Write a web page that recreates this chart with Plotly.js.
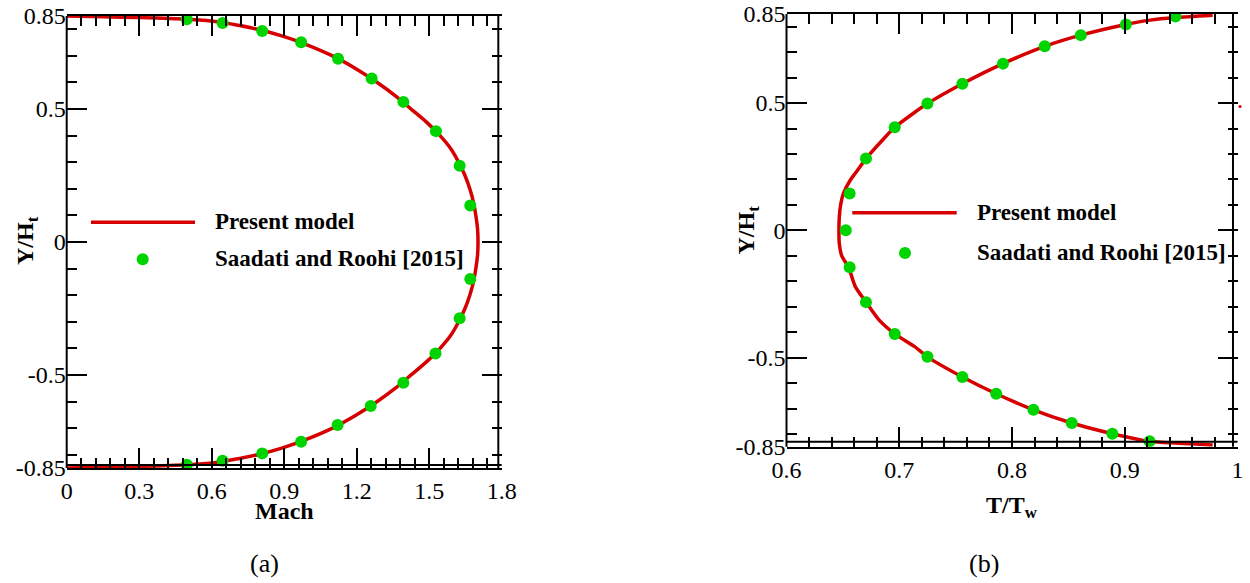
<!DOCTYPE html>
<html>
<head>
<meta charset="utf-8">
<script src="https://cdn.plot.ly/plotly-3.0.1.min.js"></script>
<style>html,body{margin:0;padding:0;background:#fff;}#chart{width:1250px;height:583px;}</style>
</head>
<body>
<div id="chart"></div>
<script>
// ---------- (a) Mach profile ----------
const machModelY = [0.85,0.847,0.844,0.840,0.835,0.826,0.815,0.80,0.775,0.75,0.70,0.65,0.60,0.55,0.50,0.45,0.40,0.35,0.30,0.25,0.20,0.15,0.10,0.05,0,
  -0.05,-0.10,-0.15,-0.20,-0.25,-0.30,-0.35,-0.40,-0.45,-0.50,-0.55,-0.60,-0.65,-0.70,-0.75,-0.775,-0.80,-0.815,-0.826,-0.835,-0.840,-0.844,-0.847,-0.85];
const machModelX = [0,0.15,0.30,0.45,0.55,0.645,0.71,0.79,0.89,0.97,1.10,1.20,1.285,1.36,1.425,1.49,1.545,1.59,1.622,1.648,1.668,1.683,1.693,1.700,1.702,
  1.700,1.693,1.683,1.668,1.648,1.622,1.59,1.545,1.49,1.425,1.36,1.285,1.20,1.10,0.97,0.89,0.79,0.71,0.645,0.55,0.45,0.30,0.15,0];
const machRefY = [0.838,0.824,0.794,0.751,0.689,0.615,0.527,0.417,0.287,0.137,
  -0.139,-0.287,-0.419,-0.529,-0.617,-0.688,-0.751,-0.795,-0.823,-0.838];
const machRefX = [0.497,0.645,0.809,0.970,1.123,1.262,1.393,1.528,1.626,1.670,
  1.670,1.626,1.526,1.393,1.258,1.121,0.970,0.809,0.645,0.497];

// ---------- (b) Temperature profile ----------
const tempModelY = [0.845,0.836,0.826,0.809,0.767,0.723,0.655,0.576,0.498,0.405,0.354,0.282,0.224,0.197,0.145,0.10,0.05,0,
  -0.05,-0.10,-0.145,-0.221,-0.282,-0.352,-0.407,-0.456,-0.497,-0.576,-0.642,-0.705,-0.757,-0.799,-0.829,-0.843];
const tempModelX = [0.978,0.945,0.9225,0.901,0.861,0.829,0.792,0.756,0.725,0.696,0.685,0.6705,0.661,0.6565,0.6505,0.648,0.6468,0.6465,
  0.6468,0.649,0.655,0.661,0.6705,0.682,0.696,0.7134,0.725,0.756,0.786,0.819,0.853,0.889,0.922,0.978];
const tempRefY = [0.840,0.809,0.767,0.723,0.655,0.576,0.498,0.405,0.282,0.145,0,
  -0.145,-0.282,-0.407,-0.497,-0.576,-0.642,-0.705,-0.757,-0.799,-0.829];
const tempRefX = [0.945,0.901,0.861,0.829,0.792,0.756,0.725,0.696,0.6705,0.656,0.6526,
  0.656,0.6705,0.696,0.725,0.756,0.786,0.819,0.853,0.889,0.922];

const yTickVals = [-0.85,-0.5,0,0.5,0.85];
const yTickText = ['-0.85','-0.5','0','0.5','0.85'];
const machTickVals = [0,0.3,0.6,0.9,1.2,1.5,1.8];
const machTickText = ['0','0.3','0.6','0.9','1.2','1.5','1.8'];
const tempTickVals = [0.6,0.7,0.8,0.9,1.0];
const tempTickText = ['0.6','0.7','0.8','0.9','1'];

const legendNames = ['Present model','Saadati and Roohi [2015]'];

const RED = '#d60000', GREEN = '#00d400';
const SERIF = 'Liberation Serif, Times New Roman, Times, serif';

const W = 1250, H = 583;
const px = v => v / W;
const py = v => 1 - v / H;

const traces = [
  {x: machModelX, y: machModelY, xaxis:'x', yaxis:'y', mode:'lines', name: legendNames[0],
   line:{color:RED, width:3.5, shape:'spline', smoothing:0.6}, showlegend:false},
  {x: machRefX, y: machRefY, xaxis:'x', yaxis:'y', mode:'markers', name: legendNames[1],
   marker:{color:GREEN, size:12}, showlegend:false},
  {x: tempModelX, y: tempModelY, xaxis:'x2', yaxis:'y2', mode:'lines', name: legendNames[0],
   line:{color:RED, width:3.5, shape:'spline', smoothing:0.6}, showlegend:false},
  {x: tempRefX, y: tempRefY, xaxis:'x2', yaxis:'y2', mode:'markers', name: legendNames[1],
   marker:{color:GREEN, size:12}, showlegend:false}
];

function xAxis(domain, range, tv, tt, minorDt, minorT0, anchor){
  return {domain, range, anchor, tickmode:'array', tickvals:tv, ticktext:tt,
    ticks:'inside', ticklen:20, tickwidth:2, tickcolor:'#000',
    minor:{ticks:'inside', ticklen:10, tickwidth:2, tickcolor:'#000', tickmode:'linear', tick0:minorT0, dtick:minorDt},
    showline:true, linewidth:2, linecolor:'#000', mirror:'allticks',
    showgrid:false, zeroline:false, fixedrange:true,
    tickfont:{family:SERIF, size:24, color:'#000'}};
}
function yAxis(domain, anchor){
  return {domain, range:[-0.85,0.85], anchor, tickmode:'array', tickvals:yTickVals, ticktext:yTickText,
    ticks:'inside', ticklen:20, tickwidth:2, tickcolor:'#000',
    minor:{ticks:'inside', ticklen:10, tickwidth:2, tickcolor:'#000', tickmode:'linear', tick0:0, dtick:0.1},
    showline:false, mirror:'allticks',
    showgrid:false, zeroline:false, fixedrange:true,
    tickfont:{family:SERIF, size:24, color:'#000'}};
}

const shapes = [];
function line(xref, yref, x0, y0, x1, y1, color, width){
  shapes.push({type:'line', xref, yref, x0, y0, x1, y1, line:{color, width}});
}
// frame lines (left border + extra Tecplot frame lines)
line('x domain','y domain',0,0,0,1,'#000',2);
line('x domain','y domain',0.9922,0,0.9922,1,'#000',2);
line('x domain','y domain',0,0.0066,1,0.0066,'#000',2);
line('x2 domain','y2 domain',0,0,0,1,'#000',2);
line('x2 domain','y2 domain',0.990,0,0.990,1,'#000',2);
line('x2 domain','y2 domain',0,0.0116,1,0.0116,'#000',2);

// legend glyphs
line('paper','paper',px(91),py(222.3),px(195),py(222.3),RED,3.5);
line('paper','paper',px(852.3),py(212.7),px(956.7),py(212.7),RED,3.5);
function dot(cx, cy, r, color){
  shapes.push({type:'circle', xref:'paper', yref:'paper', x0:px(cx-r), x1:px(cx+r), y0:py(cy+r), y1:py(cy-r),
    fillcolor:color, line:{width:0}});
}
dot(142.7,259.3,6,GREEN);
dot(905,253,6,GREEN);
dot(1240,106.5,1.6,RED);

const ann = [];
function text(t, x, y, size, opts){
  ann.push(Object.assign({text:t, x:px(x), y:py(y), xref:'paper', yref:'paper', showarrow:false,
    xanchor:'center', yanchor:'middle', font:{family:SERIF, size, color:'#000'}}, opts||{}));
}
text('<b>Y/H<sub>t</sub></b>', 27, 241, 24, {textangle:-90});
text('<b>Y/H<sub>t</sub></b>', 747.5, 230, 24, {textangle:-90});
text('<b>Mach</b>', 284.2, 511, 24);
text('<b>T/T<sub>w</sub></b>', 1012, 507, 24);
text('(a)', 264.5, 563, 26);
text('(b)', 984, 563, 26);
text('<b>'+legendNames[0]+'</b>', 213, 221, 23, {xanchor:'left'});
text('<b>'+legendNames[1]+'</b>', 213, 258.5, 23, {xanchor:'left'});
text('<b>'+legendNames[0]+'</b>', 975, 212.5, 23, {xanchor:'left'});
text('<b>'+legendNames[1]+'</b>', 975, 252.5, 23, {xanchor:'left'});

const layout = {
  width: W, height: H,
  margin:{l:0, r:0, t:0, b:0},
  paper_bgcolor:'#fff', plot_bgcolor:'rgba(0,0,0,0)',
  showlegend:false,
  font:{family:SERIF, color:'#000'},
  xaxis: xAxis([66.7/W, 501.7/W], [0,1.8], machTickVals, machTickText, 0.06, 0, 'y'),
  yaxis: yAxis([1-468/H, 1-16/H], 'x'),
  xaxis2: xAxis([786.5/W, 1237.5/W], [0.6,1.0], tempTickVals, tempTickText, 0.02, 0.6, 'y2'),
  yaxis2: yAxis([1-446.7/H, 1-14/H], 'x2'),
  shapes, annotations: ann
};

Plotly.newPlot('chart', traces, layout, {staticPlot:true, displayModeBar:false});
</script>
</body>
</html>
